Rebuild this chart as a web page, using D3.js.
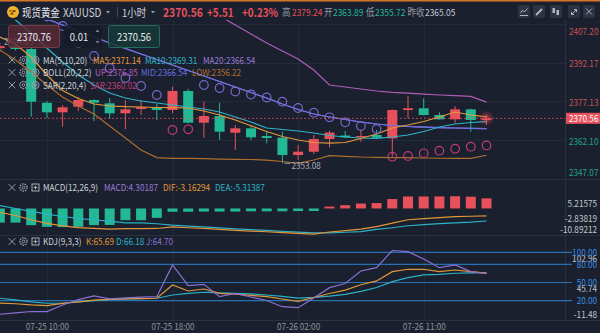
<!DOCTYPE html>
<html>
<head>
<meta charset="utf-8">
<script src="https://cdn.jsdelivr.net/npm/d3@7/dist/d3.min.js"></script>
<style>
  html, body { margin: 0; padding: 0; background: #1a202d; overflow: hidden; }
  svg { display: block; }
  text { font-family: "Noto Sans CJK SC", "Noto Sans", sans-serif; }
</style>
</head>
<body>
<svg id="chart" width="600" height="333"></svg>
<script>
// ---- 1-hour XAUUSD candles, oldest first ----
const times = ["07-25 07:00","07-25 08:00","07-25 09:00","07-25 10:00","07-25 11:00","07-25 12:00",
  "07-25 13:00","07-25 14:00","07-25 15:00","07-25 16:00","07-25 17:00","07-25 18:00","07-25 19:00",
  "07-25 20:00","07-25 21:00","07-25 22:00","07-25 23:00","07-26 00:00","07-26 01:00","07-26 02:00",
  "07-26 03:00","07-26 04:00","07-26 06:00","07-26 07:00","07-26 08:00","07-26 09:00","07-26 10:00",
  "07-26 11:00","07-26 12:00","07-26 13:00","07-26 14:00","07-26 15:00"];
const opens  = [2397.80,2398.65,2397.49,2376.62,2372.89,2375.07,2377.67,2376.39,2372.51,2374.18,2374.68,2373.79,
  2381.17,2368.86,2371.46,2364.97,2366.68,2363.69,2363.03,2356.31,2357.59,2362.52,2363.89,2363.50,2364.08,
  2362.79,2373.79,2374.45,2371.85,2370.17,2374.06,2369.90];
const highs  = [2400.00,2399.60,2398.30,2377.20,2375.73,2378.84,2377.90,2378.45,2377.67,2377.67,2376.12,2382.84,
  2381.95,2377.01,2376.62,2367.96,2367.96,2365.36,2365.36,2360.19,2364.08,2365.75,2365.63,2366.02,2366.02,
  2374.06,2379.24,2378.33,2372.89,2375.34,2374.30,2371.85];
const lows   = [2396.50,2396.90,2371.19,2370.68,2367.30,2373.40,2369.52,2370.29,2366.29,2371.85,2369.90,2372.51,
  2368.60,2363.03,2362.13,2358.25,2362.13,2360.85,2353.08,2354.36,2356.70,2359.30,2362.95,2361.47,2362.90,
  2355.72,2370.56,2371.70,2370.00,2368.62,2365.36,2367.96];
const closes = [2398.60,2397.49,2377.01,2372.89,2374.84,2377.67,2376.62,2372.51,2374.06,2374.84,2373.79,2381.17,
  2368.86,2371.46,2365.36,2366.68,2363.18,2362.91,2356.31,2357.59,2362.52,2365.05,2363.18,2363.69,2363.03,
  2373.79,2374.45,2371.85,2370.17,2374.06,2369.90,2370.56];

// ---- overlays ----
const ma5  = [2402.15,2399.43,2394.38,2387.39,2381.36,2378.26,2376.12,2375.34,2375.07,2374.95,2374.76,2374.68,
  2374.57,2373.40,2371.85,2369.90,2367.69,2365.44,2363.49,2362.13,2361.16,2360.89,2361.16,2362.72,2364.47,
  2366.80,2367.96,2369.32,2371.07,2373.01,2371.85,2371.14];
const ma10 = [2413.40,2408.75,2403.70,2397.88,2392.44,2387.39,2383.50,2380.39,2378.45,2377.29,2376.51,2375.73,
  2374.95,2374.18,2373.01,2371.07,2369.13,2366.80,2366.22,2365.63,2364.86,2363.89,2363.30,2362.91,2362.79,
  2363.30,2364.08,2365.44,2367.19,2368.35,2368.93,2369.31];
const ma20 = [2416.14,2413.80,2411.47,2409.14,2406.81,2404.48,2402.15,2399.82,2397.68,2395.55,2393.41,2391.27,
  2389.13,2387.00,2384.86,2382.72,2380.59,2378.45,2376.12,2373.98,2372.24,2371.07,2370.10,2369.13,2368.35,
  2367.77,2367.38,2367.11,2366.91,2366.80,2366.68,2366.54];
const bollUp  = [2435.20,2436.00,2437.10,2437.00,2435.50,2433.60,2431.80,2430.00,2428.60,2427.30,2426.24,2421.96,
  2417.69,2413.80,2410.31,2406.81,2403.31,2399.82,2396.71,2393.60,2389.33,2383.50,2382.72,2381.95,2381.17,
  2380.67,2380.32,2379.97,2379.62,2379.38,2379.11,2376.85];
const bollMid = ma20; // the 20-period middle band is the MA20
const bollLow = [2397.10,2393.21,2388.55,2383.50,2378.84,2375.34,2372.24,2367.57,2362.91,2358.25,2355.33,2355.02,
  2355.02,2354.87,2354.75,2354.64,2354.56,2354.36,2353.78,2353.08,2354.36,2356.04,2355.80,2355.53,2355.41,
  2355.33,2355.26,2355.14,2355.06,2355.02,2355.02,2356.22];
const sar = [2420.50,2417.00,2413.50,2410.20,2406.42,2399.82,2394.77,2390.11,2386.22,2383.11,2379.62,2366.02,
  2366.29,2383.50,2382.34,2380.98,2379.81,2378.65,2377.01,2374.57,2372.74,2370.95,2369.01,2367.57,2366.41,
  2355.65,2355.92,2356.97,2357.98,2358.75,2359.53,2360.02];

// ---- MACD(12,26,9) ----
const macdHist = [-6.0,-6.0,-7.1,-7.8,-7.9,-7.8,-7.1,-7.0,-5.0,-5.0,-4.0,-1.4,-1.4,-1.3,-1.3,-1.3,-1.2,-1.2,
  -1.2,-1.1,-1.08,0.8,1.4,2.1,2.3,4.0,5.1,5.1,5.1,5.2,5.0,4.30187];
const dif = [-1.6,-3.0,-4.8,-6.3,-7.4,-8.1,-8.5,-8.8,-8.6,-8.6,-8.5,-7.8,-8.2,-8.5,-8.9,-9.3,-9.6,-9.9,-10.3,
  -10.6,-10.89,-10.0,-9.4,-8.8,-7.7,-6.2,-4.8,-4.3,-3.9,-3.5,-3.3,-3.16294];
const dea = [1.2,0.0,-1.2,-2.4,-3.4,-4.2,-4.9,-5.4,-6.1,-6.1,-6.5,-7.1,-7.5,-7.85,-8.25,-8.65,-9.0,-9.3,-9.7,
  -10.05,-10.35,-10.4,-10.1,-9.85,-8.85,-8.2,-7.35,-6.85,-6.45,-6.1,-5.8,-5.31387];

// ---- KDJ(9,3,3) ----
const kdjK = [16.0,14.9,12.9,11.7,15.4,17.9,21.0,22.0,22.8,23.3,24.0,46.0,36.0,39.3,32.2,30.6,28.6,26.6,22.8,
  18.7,25.3,31.9,37.4,46.3,52.6,68.0,71.9,71.9,68.0,70.7,68.0,65.69];
const kdjD = [24.0,21.2,17.9,15.7,15.7,17.9,20.0,21.7,22.8,23.3,24.0,29.4,31.9,33.9,33.0,32.2,31.1,29.4,27.0,
  24.3,25.6,27.6,30.4,35.5,41.8,51.4,58.0,62.5,63.6,65.3,66.1,66.18];
const kdjJ = [-2.5,-0.3,2.1,1.8,12.8,21.8,28.0,23.0,24.5,26.0,26.6,79.0,44.8,47.0,26.6,32.0,26.0,20.3,10.0,
  8.4,24.3,41.5,48.4,69.0,74.5,102.96,101.0,89.0,74.5,79.0,68.0,64.70];

// ---- axis tick labels ----
const priceTicks = [2407.20, 2392.17, 2377.13, 2362.10, 2347.07];
const macdRange  = [5.21575, -2.83819, -10.89212];
const kdjRange   = [102.96, 45.74, -11.48];
const kdjLevels  = [100, 80, 50, 20];
const timeTicks  = ["07-25 10:00", "07-25 18:00", "07-26 02:00", "07-26 11:00"];

// ---- quote header ----
const quoteChange = "+5.51", quotePct = "+0.23%";
const dayHigh = "2379.24", dayOpen = "2363.89", dayLow = "2355.72", prevClose = "2365.05";
const bidPrice = "2370.76", spread = "0.01", askPrice = "2370.56";
const extremeLabel = "2404.85";

const C = {
  bg: "#1a202d", up: "#e8505b", down: "#22b894", grid: "#232b3a", sep: "#2a3242",
  text: "#cdd1d8", dim: "#969ca6",
  ma5: "#e39a3b", ma10: "#2fb4c8", ma20: "#9b7bd8",
  bUp: "#b15cb4", bMid: "#656fdf", bLow: "#ad6e2f",
  sarAbove: "#7d65cd", sarBelow: "#c23c79",
  k: "#e0963a", d: "#2bb1c8", j: "#8c6fd3", ref: "#2a6fb2", refText: "#3b8fe0"
};
const SX = 0.86; // glyphs are set slightly condensed

const svg = d3.select("#chart");
svg.append("rect").attr("width", 600).attr("height", 333).attr("fill", C.bg);

const defs = svg.append("defs");
const clip = (id, x, y, w, h) => defs.append("clipPath").attr("id", id)
  .append("rect").attr("x", x).attr("y", y).attr("width", w).attr("height", h);
clip("clipMain", 0, 20, 565, 159);
clip("clipMacd", 0, 180, 565, 55);
clip("clipKdj", 0, 237, 572, 83);
defs.append("filter").attr("id", "glow").attr("x", "-100%").attr("y", "-100%").attr("width", "300%").attr("height", "300%")
  .append("feGaussianBlur").attr("stdDeviation", 2);

const PLOT_R = 565;
const x  = d3.scalePoint().domain(times).range([-0.2, 486.5]);
const yP = d3.scaleLinear().domain([priceTicks[4], priceTicks[0]]).range([178.8, 24]);
const yM = d3.scaleLinear().domain([macdRange[2], macdRange[0]]).range([234.1, 196.2]);
const yK = d3.scaleLinear().domain([kdjRange[2], kdjRange[0]]).range([319.7, 250.5]);
const idx = d3.range(times.length);
const last = times.length - 1;
const X = i => x(times[i]);

function txt(g, xx, yy, s, color, size, opt = {}) {
  return g.append("text").attr("transform", `translate(${xx},${yy}) scale(${SX},1)`)
    .attr("fill", color).attr("font-size", size).attr("dominant-baseline", "central")
    .attr("text-anchor", opt.anchor || "start").attr("font-weight", opt.weight || "normal")
    .text(s);
}

// ---- grid and panel separators ----
const grid = svg.append("g").attr("stroke", C.grid).attr("stroke-width", 1);
priceTicks.slice(0, 4).forEach(v => {
  const yy = Math.round(yP(v)) + 0.5;
  grid.append("line").attr("x1", 0).attr("x2", PLOT_R).attr("y1", yy).attr("y2", yy);
});
timeTicks.forEach(t => {
  const xx = Math.round(x(t)) + 0.5;
  grid.append("line").attr("x1", xx).attr("x2", xx).attr("y1", 20).attr("y2", 320);
});
const sep = svg.append("g").attr("stroke", C.sep).attr("stroke-width", 1);
[179.5, 235.5, 320.5].forEach(yy => sep.append("line").attr("x1", 0).attr("x2", 600).attr("y1", yy).attr("y2", yy));
sep.append("line").attr("x1", PLOT_R + 0.5).attr("x2", PLOT_R + 0.5).attr("y1", 20).attr("y2", 320);

// ---- main price panel ----
const main = svg.append("g").attr("clip-path", "url(#clipMain)");
const col = i => closes[i] >= opens[i] ? C.up : C.down;
const cg = main.append("g").selectAll("g").data(idx).join("g");
cg.append("line")
  .attr("x1", X).attr("x2", X)
  .attr("y1", i => yP(highs[i])).attr("y2", i => yP(lows[i]))
  .attr("stroke", col).attr("stroke-width", 1);
cg.append("rect")
  .attr("x", i => X(i) - 5).attr("width", 10)
  .attr("y", i => yP(Math.max(opens[i], closes[i])))
  .attr("height", i => Math.max(1, Math.abs(yP(opens[i]) - yP(closes[i]))))
  .attr("fill", col);

const lineOf = scale => d3.line().defined(d => d != null).x((d, i) => X(i)).y(d => scale(d));
[[bollUp, C.bUp], [bollLow, C.bLow], [ma20, C.ma20], [bollMid, C.bMid], [ma10, C.ma10], [ma5, C.ma5]]
  .forEach(([arr, c]) => main.append("path").datum(arr).attr("d", lineOf(yP))
    .attr("fill", "none").attr("stroke", c).attr("stroke-width", 1.2));

main.append("g").selectAll("circle").data(idx).join("circle")
  .attr("cx", X).attr("cy", i => yP(sar[i])).attr("r", 4.3)
  .attr("fill", "none").attr("stroke-width", 1.2)
  .attr("stroke", i => sar[i] > closes[i] ? C.sarAbove : C.sarBelow);

// current price line and glow on the live candle
const lastY = yP(closes[last]);
main.append("circle").attr("cx", X(last)).attr("cy", lastY).attr("r", 5)
  .attr("fill", C.up).attr("opacity", 0.55).attr("filter", "url(#glow)");
svg.append("line").attr("x1", 0).attr("x2", PLOT_R).attr("y1", lastY).attr("y2", lastY)
  .attr("stroke", C.up).attr("stroke-dasharray", "2,2").attr("opacity", 0.75);

// lowest low marker
const lowIdx = d3.minIndex(lows);
svg.append("line").attr("x1", X(lowIdx) + 2).attr("x2", X(lowIdx) + 8)
  .attr("y1", yP(lows[lowIdx])).attr("y2", yP(lows[lowIdx])).attr("stroke", C.dim);
txt(svg, X(lowIdx) + 9, yP(lows[lowIdx]) + 1.5, lows[lowIdx].toFixed(2), "#a8adb6", 9.5);

// price axis
priceTicks.forEach(v => {
  const yy = Math.min(172, Math.max(31, yP(v) + 1));
  txt(svg, 569, yy, v.toFixed(2), v > closes[last] ? "#c9505a" : "#1fa585", 9.5);
});
svg.append("rect").attr("x", 566).attr("y", lastY - 5.5).attr("width", 34).attr("height", 11).attr("fill", C.up);
txt(svg, 569, lastY, closes[last].toFixed(2), "#ffffff", 9.5);

// bid / spread / ask boxes
txt(svg, 4, 41, extremeLabel, "#9aa0aa", 9.5);
svg.append("rect").attr("x", 8.5).attr("y", 25.5).attr("width", 51).attr("height", 22).attr("rx", 2)
  .attr("fill", "#5a2a36").attr("fill-opacity", 0.82).attr("stroke", "#7a3a46");
txt(svg, 34, 36.5, bidPrice, "#e6e8ec", 11, { anchor: "middle" });
svg.append("rect").attr("x", 63.5).attr("y", 25.5).attr("width", 38).attr("height", 22).attr("rx", 2)
  .attr("fill", "#151b27").attr("fill-opacity", 0.9);
txt(svg, 79, 36.5, spread, "#e6e8ec", 11, { anchor: "middle" });
svg.append("path").attr("d", "M95.5,32 L97.5,29.5 L99.5,32 Z M95.5,41 L97.5,43.5 L99.5,41 Z").attr("fill", "#7d838d");
svg.append("rect").attr("x", 108.5).attr("y", 25.5).attr("width", 51).attr("height", 22).attr("rx", 2)
  .attr("fill", "#173a38").attr("fill-opacity", 0.85).attr("stroke", "#256a5a");
txt(svg, 134, 36.5, askPrice, "#e6e8ec", 11, { anchor: "middle" });

// ---- legend icons ----
function iconClose(g, cx, cy) {
  g.append("path").attr("d", `M${cx-3.3},${cy-3.3}L${cx+3.3},${cy+3.3}M${cx+3.3},${cy-3.3}L${cx-3.3},${cy+3.3}`)
    .attr("stroke", "#9aa0aa").attr("stroke-width", 1);
}
function iconGear(g, cx, cy) {
  g.append("circle").attr("cx", cx).attr("cy", cy).attr("r", 3.6).attr("fill", "none")
    .attr("stroke", "#9aa0aa").attr("stroke-width", 1.3).attr("stroke-dasharray", "1.6,0.9");
  g.append("circle").attr("cx", cx).attr("cy", cy).attr("r", 1.4).attr("fill", "none").attr("stroke", "#9aa0aa").attr("stroke-width", 0.9);
}
function iconEye(g, cx, cy) {
  g.append("circle").attr("cx", cx).attr("cy", cy).attr("r", 3.6).attr("fill", "none").attr("stroke", "#9aa0aa").attr("stroke-width", 1);
  g.append("circle").attr("cx", cx).attr("cy", cy).attr("r", 1.5).attr("fill", "none").attr("stroke", "#9aa0aa").attr("stroke-width", 1);
}
function iconBox(g, cx, cy) {
  g.append("rect").attr("x", cx - 3.5).attr("y", cy - 3.5).attr("width", 7).attr("height", 7)
    .attr("fill", "none").attr("stroke", "#b8bcc4").attr("stroke-width", 0.9);
  g.append("path").attr("d", `M${cx-2},${cy}L${cx+2},${cy}M${cx},${cy-2}L${cx},${cy+2}`).attr("stroke", "#b8bcc4").attr("stroke-width", 0.9);
}
const lg = svg.append("g");
function legendRow(yy, third, name, items) {
  iconClose(lg, 12, yy); iconGear(lg, 23.5, yy);
  third(lg, 35.5, yy);
  txt(lg, 43, yy, name, C.text, 9.5);
  items.forEach(([xx, s, c]) => txt(lg, xx, yy, s, c, 9.5));
}
const f2 = v => v.toFixed(2), f5 = v => v.toFixed(5);
legendRow(60, iconEye, "MA(5,10,20)", [
  [93, "MA5:" + f2(ma5[last]), C.ma5], [145, "MA10:" + f2(ma10[last]), C.ma10], [203, "MA20:" + f2(ma20[last]), C.ma20]]);
legendRow(72.5, iconEye, "BOLL(20,2,2)", [
  [95, "UP:" + f2(bollUp[last]), C.bUp], [141, "MID:" + f2(bollMid[last]), C.bMid], [192, "LOW:" + f2(bollLow[last]), C.bLow]]);
legendRow(85, iconEye, "SAR(2,20,4)", [[90, "SAR:" + f2(sar[last]), C.sarBelow]]);

// ---- MACD panel ----
const macd = svg.append("g").attr("clip-path", "url(#clipMacd)");
macd.selectAll("rect").data(idx).join("rect")
  .attr("x", i => X(i) - 5).attr("width", 10)
  .attr("y", i => Math.min(yM(0), yM(macdHist[i])))
  .attr("height", i => Math.max(1, Math.abs(yM(macdHist[i]) - yM(0))))
  .attr("fill", i => macdHist[i] >= 0 ? C.up : C.down);
[[dea, C.d], [dif, C.k]].forEach(([arr, c]) => macd.append("path").datum(arr).attr("d", lineOf(yM))
  .attr("fill", "none").attr("stroke", c).attr("stroke-width", 1.2));
legendRow(187.5, iconBox, "MACD(12,26,9)", [
  [104, "MACD:" + f5(macdHist[last]), "#9b7bd8"], [163, "DIF:" + f5(dif[last]), C.k], [215, "DEA:" + f5(dea[last]), C.d]]);
macdRange.forEach(v => {
  const yy = Math.min(yM.range()[0] - 5, Math.max(yM.range()[1] + 7.5, yM(v) + 3));
  txt(svg, 597, yy, f5(v), "#c2c6ce", 9.5, { anchor: "end" });
});

// ---- KDJ panel ----
const kdj = svg.append("g").attr("clip-path", "url(#clipKdj)");
kdjLevels.forEach(v => kdj.append("line").attr("x1", 0).attr("x2", 572).attr("y1", yK(v)).attr("y2", yK(v))
  .attr("stroke", C.ref).attr("stroke-width", 1.2));
[[kdjD, C.d], [kdjK, C.k], [kdjJ, C.j]].forEach(([arr, c]) => kdj.append("path").datum(arr).attr("d", lineOf(yK))
  .attr("fill", "none").attr("stroke", c).attr("stroke-width", 1.2));
legendRow(241.5, iconBox, "KDJ(9,3,3)", [
  [86, "K:" + f2(kdjK[last]), C.k], [116, "D:" + f2(kdjD[last]), C.d], [146, "J:" + f2(kdjJ[last]), C.j]]);
kdjRange.forEach(v => {
  const yy = Math.min(yK.range()[0] - 5, Math.max(yK.range()[1] + 8, yK(v) + 3));
  txt(svg, 597, yy, f2(v), "#c2c6ce", 9.5, { anchor: "end" });
});
kdjLevels.forEach(v => txt(svg, 597, yK(v), f2(v), C.refText, 9.5, { anchor: "end" }));

// ---- time axis ----
const xAxis = svg.append("g").attr("transform", "translate(0,326.5)")
  .call(d3.axisBottom(x).tickValues(timeTicks).tickSize(0).tickPadding(0));
xAxis.select(".domain").remove();
xAxis.selectAll("text").attr("fill", "#8e949e").attr("font-size", 9.5).attr("dy", 0).attr("y", 0)
  .attr("transform", `scale(${SX},1)`)
  .attr("dominant-baseline", "central").attr("font-family", '"Noto Sans CJK SC", sans-serif');

// ---- quote header ----
const hd = svg.append("g");
hd.append("rect").attr("x", 0).attr("y", 0).attr("width", 600).attr("height", 1.5).attr("fill", "#d8742a");
hd.append("circle").attr("cx", 13).attr("cy", 12).attr("r", 6).attr("fill", "#f0b12e");
hd.append("path").attr("d", "M10,14.5 L11,12.5 L13,12.5 L14,14.5 Z M12,12 L13,10 L15,10 L16,12 Z M9,12 L10,10 L12,10 L11.5,11 Z")
  .attr("fill", "#7a4d06");
txt(hd, 22, 12, "现货黄金", "#e8eaee", 11);
txt(hd, 63, 12, "XAUUSD", "#d0d4da", 11.5);
hd.append("path").attr("d", "M106,11 L110,11 L108,13.5 Z").attr("fill", "#9aa0aa");
hd.append("line").attr("x1", 117.5).attr("x2", 117.5).attr("y1", 7).attr("y2", 17).attr("stroke", "#444c5c");
txt(hd, 122, 12, "1小时", "#d0d4da", 11);
hd.append("path").attr("d", "M151,11 L155,11 L153,13.5 Z").attr("fill", "#9aa0aa");
txt(hd, 163, 12, closes[last].toFixed(2), C.up, 12, { weight: "bold" });
txt(hd, 207, 12, quoteChange, C.up, 11.5, { weight: "bold" });
txt(hd, 242, 12, quotePct, C.up, 11.5, { weight: "bold" });
txt(hd, 282, 12, "高", C.dim, 10);
txt(hd, 292, 12, dayHigh, C.up, 9.8);
txt(hd, 324, 12, "开", C.dim, 10);
txt(hd, 333, 12, dayOpen, C.down, 9.8);
txt(hd, 366, 12, "低", C.dim, 10);
txt(hd, 375, 12, dayLow, C.down, 9.8);
txt(hd, 407.5, 12, "昨收", C.dim, 10);
txt(hd, 425, 12, prevClose, "#c2c6ce", 9.8);

// toolbar buttons
const btnX = [518, 533, 550, 568, 583];
btnX.forEach(bx => hd.append("rect").attr("x", bx).attr("y", 5).attr("width", 12).attr("height", 13).attr("rx", 2).attr("fill", "#2c3343"));
const ic = (bx, d, w = 1) => hd.append("path").attr("transform", `translate(${bx},5)`).attr("d", d)
  .attr("fill", "none").attr("stroke", "#aeb4be").attr("stroke-width", w);
ic(518, "M2.5,8 L4.5,5 L6.5,7 L9.5,3.5 M2,10.5 L10,10.5");
ic(533, "M3,10 L9,4", 2);
hd.append("rect").attr("x", 552.5).attr("y", 8).attr("width", 2.5).attr("height", 5).attr("fill", "#aeb4be");
hd.append("rect").attr("x", 556.5).attr("y", 10).attr("width", 2.5).attr("height", 5).attr("fill", "#aeb4be");
ic(568, "M3.5,9.5 L8.5,4.5 M6,4.5 L8.5,4.5 L8.5,7 M3.5,7 L3.5,9.5 L6,9.5");
ic(583, "M3,3.5 L9,9.5 M9,3.5 L3,9.5");
</script>
</body>
</html>
